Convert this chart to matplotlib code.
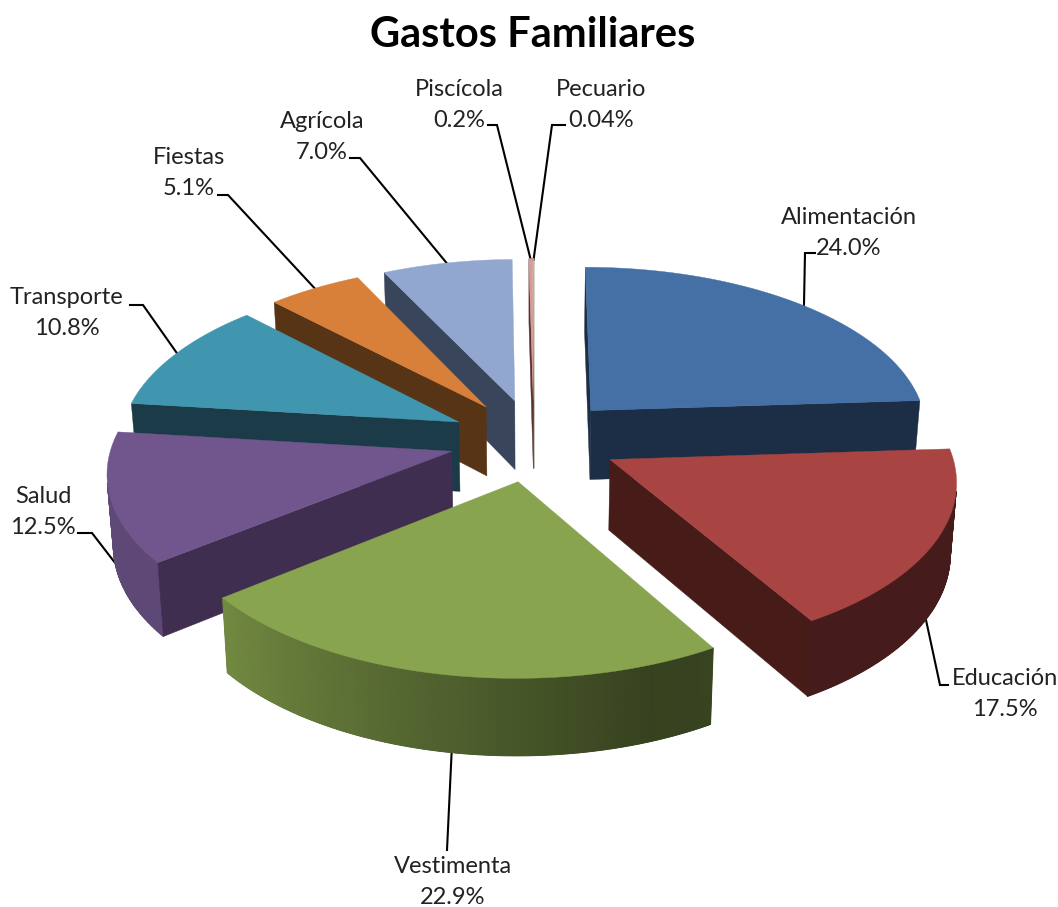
import numpy as np
import matplotlib.pyplot as plt
from matplotlib.colors import to_rgb

categories = ["Alimentación", "Educación", "Vestimenta", "Salud", "Transporte",
              "Fiestas", "Agrícola", "Piscícola", "Pecuario"]
values = [24.0, 17.5, 22.9, 12.5, 10.8, 5.1, 7.0, 0.2, 0.04]
value_labels = ["24.0%", "17.5%", "22.9%", "12.5%", "10.8%", "5.1%", "7.0%", "0.2%", "0.04%"]

top_colors = ["#4470A5", "#A84543", "#88A44E", "#70568C", "#3F96AE",
              "#D8803A", "#92A7CF", "#D89A9A", "#B5C98A"]
side_colors = ["#1C2E45", "#461B18", "#37401B", "#402E50", "#1A3B47",
               "#583416", "#39455A", "#5A3030", "#4A5530"]

# where the labels sit and where each leader bends (pixels)
label_pos = [(849, 233), (1005, 694), (453, 882), (43, 512), (67, 313),
             (189, 173), (322, 137), (459, 105), (601, 105)]
elbow_pts = [[(805, 253), (815, 253)], [(940, 685), (948, 685)], [(447, 850), (447, 850)],
             [(92, 533), (78, 533)], [(143, 305), (130, 305)], [(228, 195), (218, 195)],
             [(360, 158), (350, 158)], [(497, 125), (488, 125)], [(552, 125), (565, 125)]]
leader_on_base = [False, True, True, True, False, False, False, False, False]
leader_shift = [2, 0, -0.8, 0, 0, 0, 0, 0, 0]

# painter order, back to front
draw_order = [6, 7, 8, 5, 4, 0, 3, 1, 2]

cx, cy = 534, 440
radius = 339
squash = 0.487
persp = 0.11
height = 71
explode = 0.25

plt.rcParams['font.family'] = ['Lato', 'DejaVu Sans']


def project(x, y, z=0.0):
    p = 1 / (1 + persp * y) * (1 - 0.015 * z)
    return cx + radius * x * p, cy - radius * squash * y * p + height * z * p


def wall_shade(ang):
    return np.interp(ang, [0, 150, 160, 232, 277, 360], [0.41, 0.41, 0.40, 0.84, 0.85, 0.85])


def signed_area(pts):
    s = 0
    for a, b in zip(pts, pts[1:] + pts[:1]):
        s += a[0] * b[1] - b[0] * a[1]
    return s


def fill_poly(pts, color, lw, zo):
    ax.fill([p[0] for p in pts], [p[1] for p in pts], color=color, lw=lw, zorder=zo)


fig = plt.figure(figsize=(10.58, 9.07), dpi=100)
ax = fig.add_axes([0, 0, 1, 1])
ax.set_xlim(0, 1058)
ax.set_ylim(907, 0)
ax.axis("off")

total = sum(values)
ends = np.cumsum(values) / total * 360
starts = ends - np.array(values) / total * 360

for i in draw_order:
    zo = 1 + draw_order.index(i)
    a0, a1 = starts[i], ends[i]
    mid = np.radians((a0 + a1) / 2)
    ox, oy = explode * np.sin(mid), explode * np.cos(mid)
    angs = np.linspace(a0, a1, max(int(a1 - a0) * 2, 2) + 1)
    xs = ox + np.sin(np.radians(angs))
    ys = oy + np.cos(np.radians(angs))
    top = [project(x, y) for x, y in zip(xs, ys)]
    base = [project(x, y, 1) for x, y in zip(xs, ys)]
    apex = project(ox, oy)
    apex_b = project(ox, oy, 1)

    # curved outer wall, only the strips that face the viewer
    rgb = np.array(to_rgb(top_colors[i]))
    strips = []
    for j in range(len(angs) - 1):
        quad = [top[j], top[j + 1], base[j + 1], base[j]]
        if signed_area(quad) < 0:
            strips.append((quad, rgb * wall_shade((angs[j] + angs[j + 1]) / 2)))
    if strips:
        outline = [q[0][0] for q in strips] + [strips[-1][0][1], strips[-1][0][2]] + [q[0][3] for q in strips[::-1]]
        fill_poly(outline, np.mean([s[1] for s in strips], axis=0), 0.3, zo)
    for quad, col in strips:
        fill_poly(quad, col, 0.8, zo)

    # flat side walls, start wall faces one way and end wall the other
    wall0 = [apex, top[0], base[0], apex_b]
    wall1 = [apex, top[-1], base[-1], apex_b]
    if signed_area(wall0) < 0:
        fill_poly(wall0, side_colors[i], 0.3, zo)
    if signed_area(wall1) > 0:
        fill_poly(wall1, side_colors[i], 0.3, zo)

    # top face
    fill_poly([apex] + top, top_colors[i], 0.3, zo)

    # label and leader, the line goes under the slices
    z = 1 if leader_on_base[i] else 0
    la = mid + np.radians(leader_shift[i])
    start = project(ox + 0.99 * np.sin(la), oy + 0.99 * np.cos(la), z)
    line = [start] + elbow_pts[i]
    ax.plot([p[0] for p in line], [p[1] for p in line], color="black", lw=1.5,
            solid_joinstyle="miter", zorder=0)
    ax.text(label_pos[i][0], label_pos[i][1], categories[i] + "\n" + value_labels[i],
            ha="center", va="center", fontsize=17, color="#222222", linespacing=1.57, zorder=30)

ax.text(533, 35, "Gastos Familiares", ha="center", va="center", fontsize=30,
        fontweight="bold", color="black", zorder=30)

fig.savefig("out.png", dpi=100, facecolor="white")
